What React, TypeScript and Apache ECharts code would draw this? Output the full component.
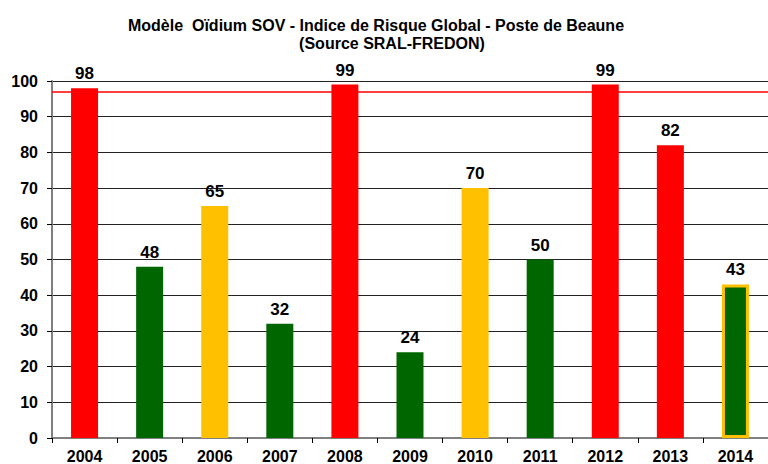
import React, { useEffect, useRef } from "react";
import * as echarts from "echarts";

const years = ["2004", "2005", "2006", "2007", "2008", "2009", "2010", "2011", "2012", "2013", "2014"];
const values = [98, 48, 65, 32, 99, 24, 70, 50, 99, 82, 43];
const fillColors = ["#FF0000", "#006600", "#FFC000", "#006600", "#FF0000", "#006600", "#FFC000", "#006600", "#FF0000", "#FF0000", "#006600"];
const borderColors = ["", "", "", "", "", "", "", "", "", "", "#FFC000"];
const thresholdValue = 97;

export default function App() {
  const ref = useRef<HTMLDivElement>(null);
  useEffect(() => {
    if (!ref.current) return;
    const chart = echarts.init(ref.current, undefined, { renderer: "svg" });
    const font = "Liberation Sans, Arial, sans-serif";
    chart.setOption({
      animation: false,
      backgroundColor: "#ffffff",
      textStyle: { fontFamily: font },
      title: [
        {
          text: "Modèle  Oïdium SOV - Indice de Risque Global - Poste de Beaune",
          left: 371,
          top: 12,
          textAlign: "center",
          textStyle: { fontSize: 16, fontWeight: "bold", color: "#000", fontFamily: font },
        },
        {
          text: "(Source SRAL-FREDON)",
          left: 387,
          top: 30,
          textAlign: "center",
          textStyle: { fontSize: 16, fontWeight: "bold", color: "#000", fontFamily: font },
        },
      ],
      grid: { left: 52, top: 81, width: 725, height: 357, containLabel: false },
      xAxis: {
        type: "category",
        data: years,
        axisLine: { show: true, lineStyle: { color: "#808080", width: 2 } },
        axisTick: { show: true, alignWithLabel: false, inside: false, length: 5, lineStyle: { color: "#000" } },
        axisLabel: { fontSize: 16, fontWeight: "bold", color: "#000", margin: 10, fontFamily: font },
      },
      yAxis: {
        type: "value",
        min: 0,
        max: 100,
        interval: 10,
        axisLine: { show: true, lineStyle: { color: "#808080", width: 2 } },
        axisTick: { show: true, length: 5, lineStyle: { color: "#000" } },
        axisLabel: { fontSize: 16, fontWeight: "bold", color: "#000", margin: 14, fontFamily: font },
        splitLine: { show: true, lineStyle: { color: "#222", width: 1 } },
      },
      series: [
        {
          type: "bar",
          barWidth: 27,
          data: values.map((v, i) => ({
            value: v,
            itemStyle: {
              color: fillColors[i],
              borderColor: borderColors[i] || fillColors[i],
              borderWidth: borderColors[i] ? 3 : 0,
            },
          })),
          label: {
            show: true,
            position: "top",
            distance: 6,
            fontSize: 17,
            fontWeight: "bold",
            color: "#000",
            fontFamily: font,
          },
          markLine: {
            silent: true,
            symbol: ["none", "none"],
            label: { show: false },
            lineStyle: { color: "#FF0000", width: 1.5, type: "solid" },
            data: [{ yAxis: thresholdValue }],
          },
        },
      ],
    });
    return () => chart.dispose();
  }, []);
  return <div ref={ref} style={{ width: 768, height: 464, position: "absolute", left: 0, top: 0 }} />;
}
